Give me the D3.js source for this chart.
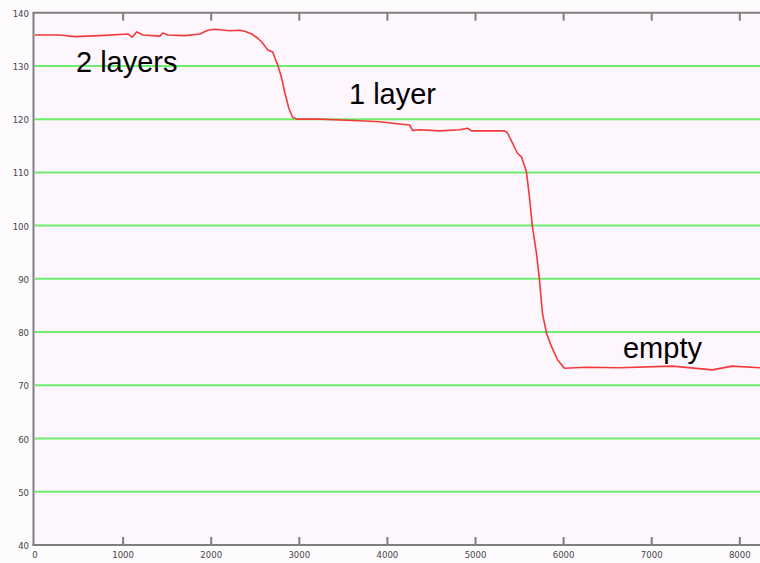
<!DOCTYPE html>
<html>
<head>
	<meta charset="utf-8">
	<title>Layers</title>
	<style>
		body { margin: 0; background: #fefbfe; }
		.tick-label { font-family: "DejaVu Sans Condensed", "DejaVu Sans", sans-serif; font-size: 9.5px; fill: #444; }
		.note { font-family: "Liberation Sans", Arial, sans-serif; font-size: 29px; fill: #000; }
	</style>
</head>
<body>
<div id="chart"></div>
<script src="https://d3js.org/d3.v7.min.js"></script>
<script>
// data
var xs = [0, 283, 454, 737, 1054, 1100, 1156, 1224, 1417, 1451, 1508, 1701, 1871, 1961, 2041, 2211,
	2324, 2381, 2460, 2528, 2574, 2642, 2698, 2732, 2755, 2800, 2834, 2880, 2925, 2982, 3231, 3685,
	3912, 4138, 4252, 4286, 4365, 4592, 4819, 4909, 4955, 5329, 5363, 5420, 5476, 5522, 5578, 5612,
	5646, 5692, 5726, 5760, 5805, 5862, 5930, 6009, 6259, 6633, 7234, 7687, 7914, 8229];
var ys = [135.8, 135.8, 135.5, 135.7, 136.0, 135.4, 136.4, 135.8, 135.6, 136.2, 135.8, 135.7, 136.0, 136.7, 136.9, 136.6,
	136.7, 136.5, 136.0, 135.2, 134.5, 133.0, 132.6, 131.1, 130.2, 127.7, 125.1, 122.1, 120.3, 120.0, 120.0, 119.7,
	119.5, 119.1, 118.9, 117.9, 118.0, 117.8, 118.0, 118.3, 117.8, 117.8, 117.4, 115.5, 113.6, 112.9, 110.1, 105.4,
	99.8, 94.8, 89.8, 83.5, 79.8, 77.3, 74.8, 73.2, 73.4, 73.3, 73.6, 72.9, 73.6, 73.3];
var xTicks = [0, 1000, 2000, 3000, 4000, 5000, 6000, 7000, 8000];
var yTicks = [40, 50, 60, 70, 80, 90, 100, 110, 120, 130, 140];
var gridValues = [50, 60, 70, 80, 90, 100, 110, 120, 130];
var notes = [
	{ text: "2 layers", x: 465, y: 128.9 },
	{ text: "1 layer", x: 3564, y: 122.85 },
	{ text: "empty", x: 6674, y: 75.1 }
];

var W = 760, H = 563;
var x = d3.scaleLinear().domain([0, 8229]).range([35, 760]);
var y = d3.scaleLinear().domain([40, 140]).range([545, 12.7]);

var svg = d3.select("#chart").append("svg")
	.attr("width", W)
	.attr("height", H);

// plot background
svg.append("rect")
	.attr("x", x(0) - 1).attr("y", y(140))
	.attr("width", W - x(0) + 1).attr("height", y(40) - y(140))
	.attr("fill", "#fdf6fd");

// green grid lines
svg.selectAll(".grid")
	.data(gridValues)
	.enter().append("line")
	.attr("x1", x(0)).attr("x2", W)
	.attr("y1", function(d) { return y(d); })
	.attr("y2", function(d) { return y(d); })
	.attr("stroke", "#6ded6d")
	.attr("stroke-width", 2);

// axes frame
var axisColor = "#7f7f7f";
svg.append("line").attr("x1", x(0) - 1.5).attr("x2", x(0) - 1.5).attr("y1", y(140)).attr("y2", y(40) + 1)
	.attr("stroke", axisColor).attr("stroke-width", 2);
svg.append("line").attr("x1", x(0) - 2.5).attr("x2", W).attr("y1", y(40)).attr("y2", y(40))
	.attr("stroke", axisColor).attr("stroke-width", 2);
svg.append("line").attr("x1", x(0) - 2.5).attr("x2", W).attr("y1", y(140)).attr("y2", y(140))
	.attr("stroke", axisColor).attr("stroke-width", 2);

// inward ticks, bottom and top
var inner = xTicks.filter(function(d) { return d > 0; });
svg.selectAll(".tb").data(inner).enter().append("line")
	.attr("x1", function(d) { return x(d); }).attr("x2", function(d) { return x(d); })
	.attr("y1", y(40)).attr("y2", y(40) - 8)
	.attr("stroke", axisColor).attr("stroke-width", 2);
svg.selectAll(".tt").data(inner).enter().append("line")
	.attr("x1", function(d) { return x(d); }).attr("x2", function(d) { return x(d); })
	.attr("y1", y(140)).attr("y2", y(140) + 8)
	.attr("stroke", axisColor).attr("stroke-width", 2);

// tick labels
svg.selectAll(".xl").data(xTicks).enter().append("text")
	.attr("class", "tick-label")
	.attr("x", function(d) { return x(d); })
	.attr("y", 558)
	.attr("text-anchor", "middle")
	.text(function(d) { return d; });
svg.selectAll(".yl").data(yTicks).enter().append("text")
	.attr("class", "tick-label")
	.attr("x", 29)
	.attr("y", function(d) { return y(d) + 4; })
	.attr("text-anchor", "end")
	.text(function(d) { return d; });

// red trace
var pts = xs.map(function(v, i) { return [v, ys[i]]; });
var line = d3.line()
	.x(function(d) { return x(d[0]); })
	.y(function(d) { return y(d[1]); });
svg.append("path")
	.datum(pts)
	.attr("d", line)
	.attr("fill", "none")
	.attr("stroke", "#f23a3a")
	.attr("stroke-width", 1.6)
	.attr("stroke-linejoin", "round");

// annotations
svg.selectAll(".note").data(notes).enter().append("text")
	.attr("class", "note")
	.attr("x", function(d) { return x(d.x); })
	.attr("y", function(d) { return y(d.y); })
	.text(function(d) { return d.text; });
</script>
</body>
</html>
